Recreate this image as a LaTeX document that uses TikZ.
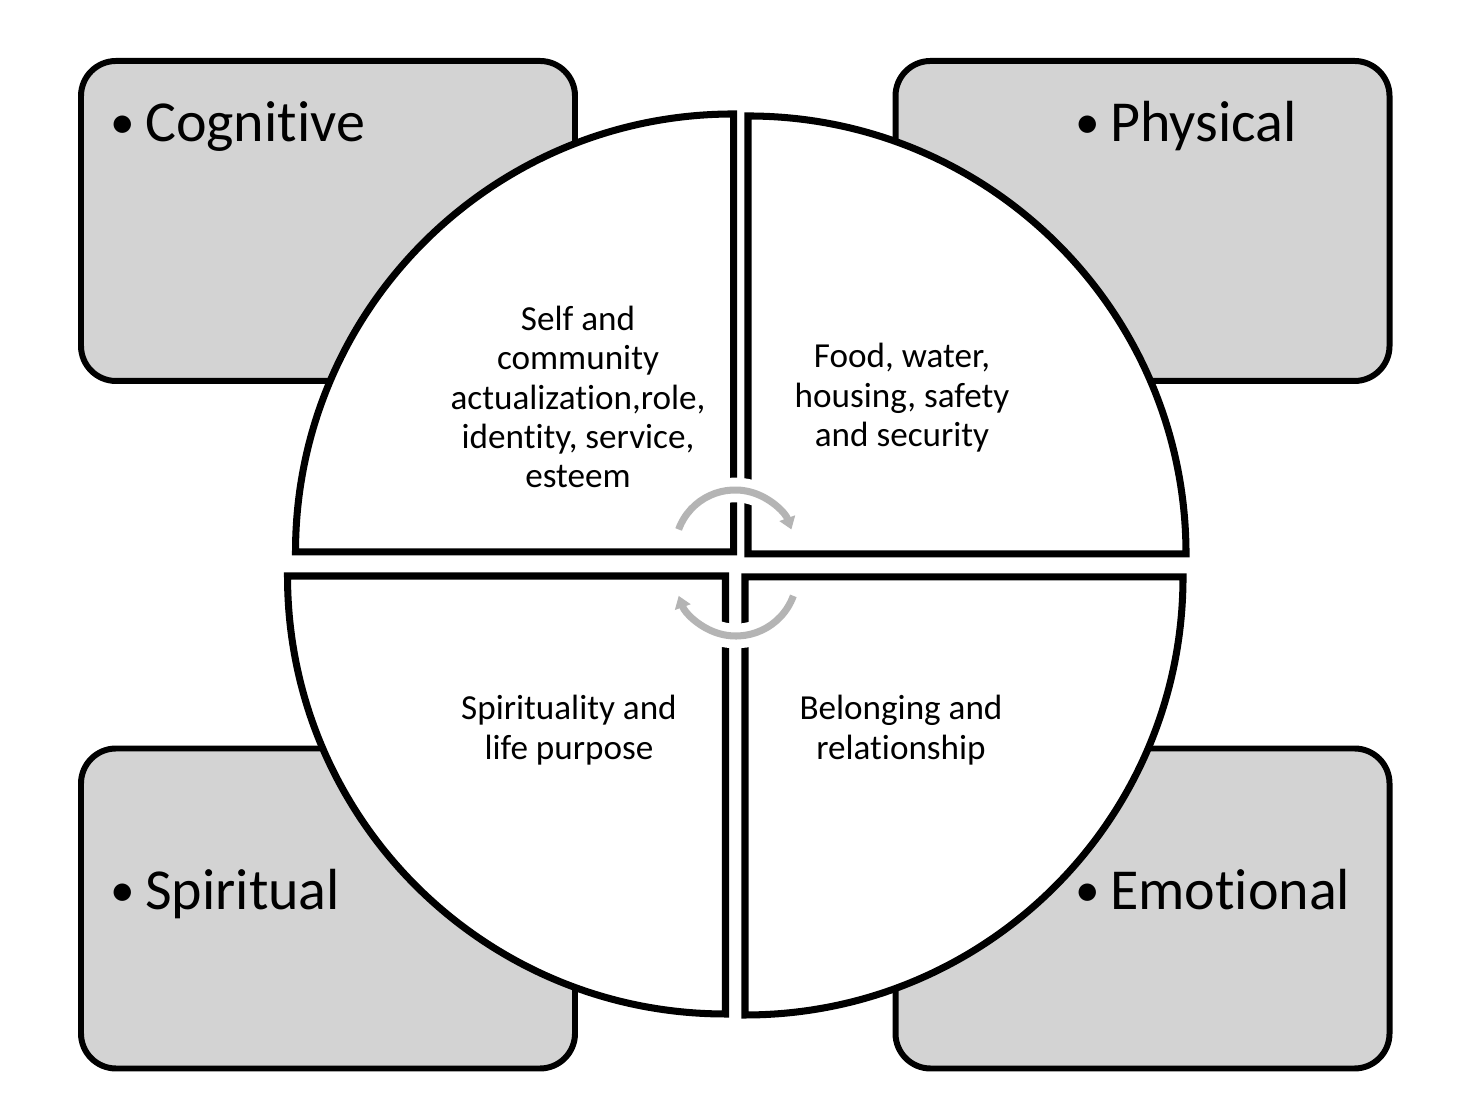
\documentclass[tikz,border=0pt]{standalone}
\usepackage{fontspec}
\setmainfont{Carlito}[Ligatures=NoCommon]
\usepackage{tikz}
\usetikzlibrary{arrows.meta}
\definecolor{boxgray}{HTML}{D3D3D3}
\definecolor{cyclegray}{HTML}{B4B4B4}
\newcommand{\dimdot}{{\fontsize{14}{14}\selectfont\raisebox{0.07em}{\textbullet}}\hspace{0.1cm}}

\begin{document}
\begin{tikzpicture}[
  dimbox/.style={draw=black,line width=1.7pt,fill=boxgray,rounded corners=0.35cm,
    minimum width=4.94cm,minimum height=3.2cm,inner sep=0pt},
  quarter/.style={draw=black,line width=2pt,fill=white},
  dimtext/.style={anchor=base west,inner sep=0pt,font=\fontsize{16.5}{20}\selectfont},
  needtext/.style={align=center,font=\fontsize{10}{11.2}\selectfont},
  cyclearrow/.style={draw=cyclegray,line width=2pt,
    -{Triangle[length=1.2mm,width=1.6mm]},
    preaction={draw=white,line width=7pt,-}}
]
  \useasboundingbox (0,0) rectangle (14.7,11.18);
  % the four gray domains
  \node[dimbox] (cogbox) at (3.28,8.97) {};
  \node[dimbox] (physbox) at (11.425,8.97) {};
  \node[dimbox] (spirbox) at (3.28,2.095) {};
  \node[dimbox] (emobox) at (11.425,2.095) {};
  \node[dimtext] (cog) at (1.10,9.76) {\dimdot Cognitive};
  \node[dimtext] (phys) at (10.75,9.76) {\dimdot Physical};
  \node[dimtext] (spir) at (1.10,2.08) {\dimdot Spiritual};
  \node[dimtext] (emo) at (10.75,2.08) {\dimdot Emotional};
  % the circle in four quarters
  \coordinate (tlc) at (7.335,5.66);
  \coordinate (trc) at (7.48,5.64);
  \coordinate (blc) at (7.255,5.42);
  \coordinate (brc) at (7.45,5.41);
  \draw[quarter] (tlc) -- ++(-4.38,0) arc[start angle=180,end angle=90,radius=4.38] -- cycle;
  \draw[quarter] (trc) -- ++(0,4.38) arc[start angle=90,end angle=0,radius=4.38] -- cycle;
  \draw[quarter] (blc) -- ++(-4.38,0) arc[start angle=180,end angle=270,radius=4.38] -- cycle;
  \draw[quarter] (brc) -- ++(4.38,0) arc[start angle=0,end angle=-90,radius=4.38] -- cycle;
  \node[needtext] (selfneeds) at (5.78,7.21) {Self and\\community\\actualization,role,\\identity, service,\\esteem};
  \node[needtext] (foodneeds) at (9.02,7.20) {Food, water,\\housing, safety\\and security};
  \node[needtext] (spiritneeds) at (5.69,3.88) {Spirituality and\\life purpose};
  \node[needtext] (belongneeds) at (9.01,3.88) {Belonging and\\relationship};
  % cycle arrows in the middle
  \coordinate (uppivot) at (7.35,5.68);
  \coordinate (lowpivot) at (7.36,5.43);
  \draw[cyclearrow] ([shift={(160:0.6)}]uppivot) arc[start angle=160,end angle=20,radius=0.6];
  \draw[cyclearrow] ([shift={(-20:0.61)}]lowpivot) arc[start angle=-20,end angle=-160,radius=0.61];
\end{tikzpicture}
\end{document}
